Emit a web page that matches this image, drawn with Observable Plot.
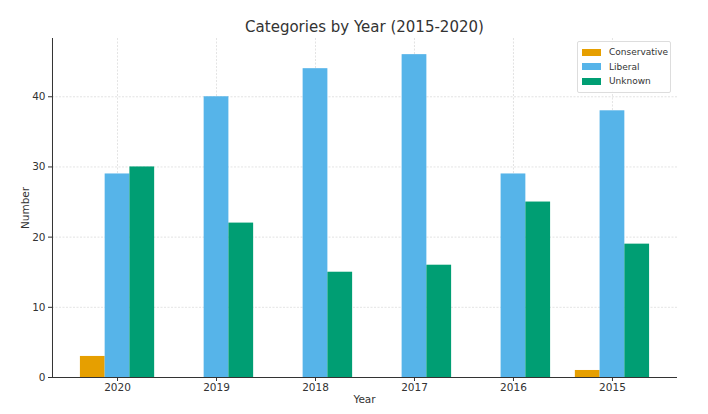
<!DOCTYPE html>
<html>
<head>
<meta charset="utf-8">
<script src="https://cdn.jsdelivr.net/npm/d3@7"></script>
<script src="https://cdn.jsdelivr.net/npm/@observablehq/plot@0.6"></script>
<style>
  html, body { margin: 0; padding: 0; background: #fff; }
  body { width: 708px; height: 414px; position: relative; font-family: "DejaVu Sans", sans-serif; overflow: hidden; }
  #title { position: absolute; left: 52px; width: 625px; top: 18px; text-align: center; font-size: 15px; color: #333; }
  #chart { position: absolute; left: 0; top: 30px; }
  #xlabel { position: absolute; left: 52px; width: 625px; top: 393px; text-align: center; font-size: 10.5px; color: #333; }
  #ylabel { position: absolute; left: 25px; top: 208px; transform: translate(-50%, -50%) rotate(-90deg); font-size: 10.5px; color: #333; white-space: nowrap; }
  #legend { position: absolute; left: 577px; top: 41px; width: 92px; border: 1px solid #ddd; border-radius: 2px; background: rgba(255,255,255,0.85); padding: 3px 0 3px 0; font-size: 9px; color: #333; }
  .item { display: flex; align-items: center; height: 14.5px; padding-left: 4px; }
  .sw { width: 19px; height: 7px; margin-right: 8px; }
</style>
</head>
<body>
<div id="title">Categories by Year (2015-2020)</div>
<div id="chart"></div>
<div id="xlabel">Year</div>
<div id="ylabel">Number</div>
<div id="legend"></div>
<script>
const years = ["2020", "2019", "2018", "2017", "2016", "2015"];
const series = ["Conservative", "Liberal", "Unknown"];
const colors = ["#E69F00", "#56B4E9", "#009E73"];
const conservative = [3, 0, 0, 0, 0, 1];
const liberal = [29, 40, 44, 46, 29, 38];
const unknown = [30, 22, 15, 16, 25, 19];
const yTicks = [0, 10, 20, 30, 40];

const values = [conservative, liberal, unknown];
const data = [];
series.forEach((s, si) => years.forEach((y, yi) => data.push({year: y, series: s, value: values[si][yi]})));

const step = 625 / (6 - 0.75 + 2 * 0.532), bw = step * 0.25;
const offsets = [-bw, 0, bw];

const plot = Plot.plot({
  width: 708,
  height: 384,
  marginLeft: 52,
  marginRight: 31,
  marginTop: 8,
  marginBottom: 37,
  style: {fontFamily: "DejaVu Sans, sans-serif", fontSize: "10.5px", color: "#333", background: "transparent"},
  x: {domain: years, paddingInner: 0.75, paddingOuter: 0.532, round: false, label: null, tickSize: 4, tickPadding: 2},
  y: {domain: [0, 48.3], ticks: yTicks, label: null, tickSize: 4, tickPadding: 3},
  color: {domain: series, range: colors},
  marks: [
    Plot.gridY(yTicks.slice(1), {stroke: "#cccccc", strokeOpacity: 0.7, strokeDasharray: "2,1.5", strokeWidth: 0.8}),
    Plot.gridX(years, {stroke: "#cccccc", strokeOpacity: 0.7, strokeDasharray: "2,1.5", strokeWidth: 0.8}),
    ...series.map((s, i) => Plot.barY(data.filter(d => d.series === s), {x: "year", y: "value", fill: "series", dx: offsets[i]})),
    Plot.ruleY([0], {stroke: "#333", strokeWidth: 1}),
    Plot.ruleX([years[0]], {stroke: "#333", strokeWidth: 1, dx: -(step * 0.657), y1: 0, y2: 48.3})
  ]
});
document.getElementById("chart").appendChild(plot);

const leg = document.getElementById("legend");
series.forEach((s, i) => {
  const it = document.createElement("div");
  it.className = "item";
  it.innerHTML = `<span class="sw" style="background:${colors[i]}"></span><span>${s}</span>`;
  leg.appendChild(it);
});
</script>
</body>
</html>
